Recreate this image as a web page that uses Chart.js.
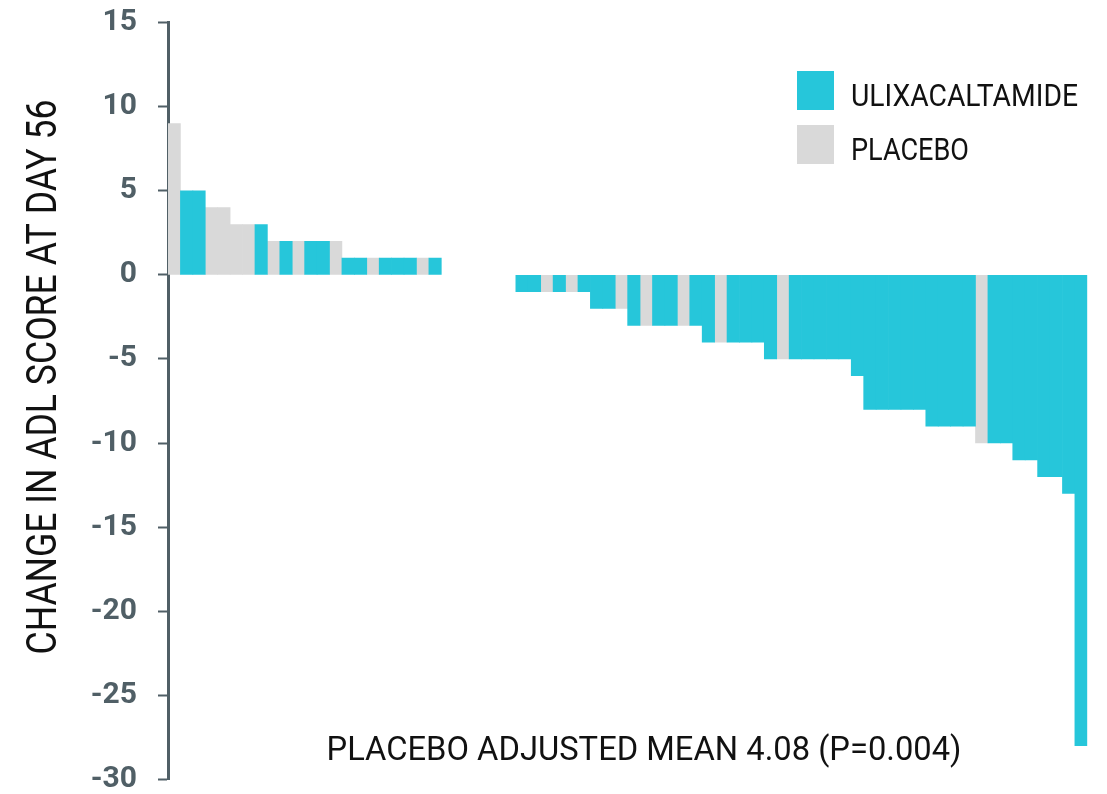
<!DOCTYPE html>
<html>
<head>
<meta charset="utf-8">
<script src="https://cdn.jsdelivr.net/npm/chart.js@4/dist/chart.umd.min.js"></script>
<style>
  body { margin: 0; background: #fff; }
  #chart { display: block; }
</style>
</head>
<body>
<canvas id="chart" width="1107" height="794"></canvas>
<script>
// one bar per patient, sorted from best to worst change
const changeScores = [
  9, 5, 5, 4, 4, 3, 3, 3, 2, 2, 2, 2, 2, 2, 1, 1, 1, 1, 1, 1, 1, 1,
  0, 0, 0, 0, 0, 0,
  -1, -1, -1, -1, -1, -1, -2, -2, -2, -3, -3, -3, -3, -3, -3,
  -4, -4, -4, -4, -4, -5, -5, -5, -5, -5, -5, -5, -6,
  -8, -8, -8, -8, -8, -9, -9, -9, -9, -10, -10, -10,
  -11, -11, -12, -12, -13, -28
];
// U = ulixacaltamide, P = placebo
const groups = [
  "P", "U", "U", "P", "P", "P", "P", "U", "P", "U", "P", "U", "U", "P", "U", "U", "P", "U", "U", "U", "P", "U",
  "U", "U", "U", "U", "U", "U",
  "U", "U", "P", "U", "P", "U", "U", "U", "P", "U", "P", "U", "U", "P", "U",
  "U", "P", "U", "U", "U", "U", "P", "U", "U", "U", "U", "U", "U",
  "U", "U", "U", "U", "U", "U", "U", "U", "U", "P", "U", "U",
  "U", "U", "U", "U", "U", "U"
];
const seriesNames = ["ULIXACALTAMIDE", "PLACEBO"];
const yMin = -30;
const yMax = 15;
const yStep = 5;
const yTitle = "CHANGE IN ADL SCORE AT DAY 56";
const meanNote = "PLACEBO ADJUSTED MEAN 4.08 (P=0.004)";

const COLOR = {
  ulix: "#26C6DA",
  placebo: "#D9D9D9",
  axis: "#505F66",
  text: "#111111",
};

const patients = changeScores.map((_, i) => String(i + 1));
// a zero change gets no bar
const pick = (g) => changeScores.map((v, i) => (groups[i] === g && v !== 0 ? v : null));
const ulixValues = pick("U");
const placeboValues = pick("P");

// Roboto squeezed sideways to stand in for the condensed face of the original
function drawCondensed(ctx, text, x, y, size, width, align, angle) {
  ctx.save();
  ctx.font = `${size}px Roboto`;
  const squeeze = width / ctx.measureText(text).width;
  ctx.translate(x, y);
  if (angle) ctx.rotate(angle);
  ctx.scale(squeeze, 1);
  ctx.fillStyle = COLOR.text;
  ctx.textAlign = align;
  ctx.textBaseline = "alphabetic";
  ctx.fillText(text, 0, 0);
  ctx.restore();
}

const labelsPlugin = {
  id: "labels",
  afterDraw(chart) {
    const ctx = chart.ctx;
    drawCondensed(ctx, yTitle, 56, 377, 43, 555, "center", -Math.PI / 2);
    drawCondensed(ctx, meanNote, 644, 760, 34, 635, "center");
    const widths = [227, 118];
    chart.data.datasets.forEach((ds, i) => {
      const top = 71 + i * 54;
      ctx.fillStyle = ds.backgroundColor;
      ctx.fillRect(797, top, 37, 39);
      drawCondensed(ctx, ds.label, 851, top + 35, 32, widths[i], "left");
    });
  },
};

new Chart(document.getElementById("chart"), {
  type: "bar",
  data: {
    labels: patients,
    datasets: [
      { label: seriesNames[0], data: ulixValues, backgroundColor: COLOR.ulix },
      { label: seriesNames[1], data: placeboValues, backgroundColor: COLOR.placebo },
    ],
  },
  options: {
    responsive: false,
    animation: false,
    devicePixelRatio: 1,
    barPercentage: 1,
    categoryPercentage: 1,
    borderWidth: 0,
    layout: { padding: { left: 0, right: 19.7, top: 22.7, bottom: 14.7 } },
    plugins: {
      legend: { display: false },
      tooltip: { enabled: false },
    },
    scales: {
      x: {
        stacked: true,
        display: false,
        offset: true,
      },
      y: {
        stacked: true,
        min: yMin,
        max: yMax,
        ticks: {
          stepSize: yStep,
          color: COLOR.axis,
          padding: 21,
          font: { family: "Roboto", size: 30, weight: "bold", lineHeight: 1 },
        },
        grid: {
          drawOnChartArea: false,
          tickLength: 10,
          tickWidth: 2,
          color: COLOR.axis,
        },
        border: { display: true, color: COLOR.axis, width: 3 },
        afterFit(scale) {
          scale.width = 168;
          scale.paddingTop = 0;
          scale.paddingBottom = 0;
        },
      },
    },
  },
  plugins: [labelsPlugin],
});
</script>
</body>
</html>
